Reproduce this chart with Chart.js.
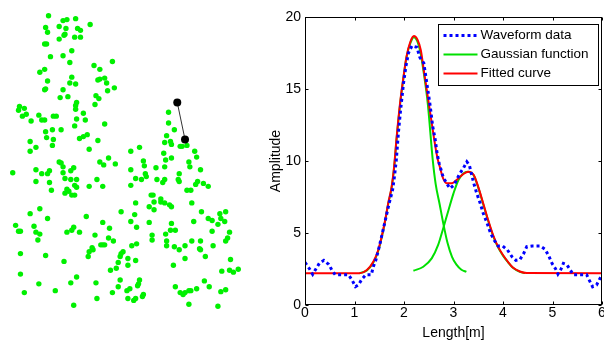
<!DOCTYPE html>
<html>
<head>
<meta charset="utf-8">
<script src="https://cdn.jsdelivr.net/npm/chart.js@4.4.0/dist/chart.umd.min.js"></script>
<style>
  html, body { margin: 0; padding: 0; background: #fff; }
  body { width: 604px; height: 340px; position: relative; overflow: hidden; }
  #mapWrap { position: absolute; left: 0; top: 0; width: 250px; height: 320px; }
  #waveWrap { position: absolute; left: 255px; top: 0; width: 349px; height: 340px; }
</style>
</head>
<body>
<div id="mapWrap"><canvas id="mapChart"></canvas></div>
<div id="waveWrap"><canvas id="waveChart"></canvas></div>
<script>
// --- Plan view: ground points and the selected footprint pair ---
const groundPts = [
  [46,12],[61,17],[65,16],[74,15],[43,24],[57,23],[64,25],[76,25],[79,27],[45,29],[63,31],[62,32],[73,34],[79,34],[57,36],
  [42,41],[44,41],[70,48],[48,54],[61,53],[68,60],[42,67],[37,70],[70,75],[45,79],[68,81],[74,82],[43,87],[42,88],[61,88],
  [58,96],[66,95],[75,101],[74,104],[74,108],[16,105],[15,109],[21,107],[19,115],[23,113],[36,114],[28,120],[39,119],[42,119],
  [51,115],[54,115],[75,118],[82,112],[84,119],[73,125],[43,131],[50,129],[59,129],[44,137],[51,139],[27,141],[33,147],[50,145],
  [27,151],[78,138],[82,136],
  [89,21],[93,63],[112,59],[99,67],[97,78],[99,77],[104,76],[106,81],[114,86],[107,89],[95,94],[98,97],[94,103],[104,123],
  [86,134],[97,140],[88,149],[131,151],[140,147],[170,111],[170,122],[168,135],[166,142],[165,153],
  [176,129],[172,141],[173,144],[182,146],[184,146],[189,145],[197,151],
  [57,162],[59,163],[61,167],[9,173],[33,170],[39,174],[45,174],[47,171],[61,173],[69,171],[72,168],[33,182],[47,183],[63,179],
  [69,180],[75,180],[73,186],[49,191],[65,190],[63,194],[67,192],[70,196],[73,196],[75,188],[37,210],[27,215],[45,220],[85,218],
  [12,227],[15,233],[17,233],[31,228],[33,234],[37,236],[35,242],[65,234],[70,232],[72,229],[78,234],[17,256],[43,258],[62,264],
  [17,277],[75,280],[36,287],[69,286],[21,296],[53,294],[72,309],
  [99,162],[108,158],[103,165],[115,164],[144,161],[145,166],[167,160],[166,167],[157,168],[131,170],[146,174],[147,177],[136,179],
  [142,180],[158,180],[166,180],[164,183],[96,180],[88,187],[102,187],[131,186],[152,196],[154,196],[162,200],[162,203],[166,204],
  [155,203],[150,208],[155,211],[136,204],[121,213],[135,216],[131,223],[102,224],[109,230],[150,224],[137,229],[94,237],[108,240],
  [113,243],[153,237],[153,242],[167,236],[168,243],[168,248],[100,247],[102,247],[104,247],[137,246],[132,248],[91,250],[92,252],
  [88,254],[87,259],[123,254],[121,256],[120,259],[128,261],[118,265],[136,263],[128,268],[116,271],[110,273],[120,283],[140,283],
  [139,287],[95,286],[118,290],[138,289],[130,292],[127,294],[112,296],[144,298],[143,300],[128,302],[136,302],[134,304],[96,302],
  [173,158],[191,162],[199,157],[192,167],[203,170],[181,174],[180,180],[181,182],[200,182],[198,185],[206,184],[211,187],[189,191],
  [193,191],[171,206],[173,208],[194,204],[204,213],[223,215],[229,213],[211,220],[215,222],[224,220],[228,223],[221,226],[196,223],
  [173,225],[172,232],[177,232],[215,233],[233,234],[231,240],[229,243],[194,243],[203,243],[176,249],[181,252],[187,248],[202,251],
  [203,252],[216,248],[208,259],[187,261],[234,262],[175,268],[225,274],[233,273],[237,275],[242,272],[207,284],[212,290],[177,290],
  [199,292],[182,296],[185,298],[187,296],[191,294],[193,294],[224,295],[229,293],[191,308],[221,310]
];
const footprintX = [179, 187];
const footprintY = [101, 139];

// --- Waveform panel ---
const waveX = [0, 0.09, 0.155, 0.22, 0.29, 0.38, 0.48, 0.545, 0.61, 0.7, 0.88, 0.95, 1.02, 1.08, 1.15, 1.23, 1.34, 1.38, 1.43,
  1.5, 1.57, 1.63, 1.7, 1.77, 1.81, 1.845, 1.885, 1.93, 1.99, 2.04, 2.09, 2.16, 2.26, 2.32, 2.4, 2.47, 2.53, 2.58, 2.63, 2.67,
  2.71, 2.79, 2.86, 2.93, 3.01, 3.06, 3.13, 3.2, 3.27, 3.32, 3.36, 3.41, 3.47, 3.54, 3.6, 3.68, 3.75, 3.82, 3.9, 3.99, 4.09,
  4.18, 4.26, 4.34, 4.42, 4.48, 4.59, 4.75, 4.85, 4.92, 4.99, 5.06, 5.11, 5.17, 5.22, 5.29, 5.35, 5.42, 5.55, 5.69, 5.74, 5.81,
  5.89, 5.96, 6.0];
const waveY = [2.96, 2.52, 2.13, 2.5, 2.9, 3.1, 2.82, 2.41, 2.1, 2.1, 2.1, 1.74, 1.27, 1.4, 1.8, 2.1, 2.1, 2.66, 3.1,
  4.05, 5.1, 6.0, 7.06, 8.0, 9.0, 10.1, 11.9, 13.5, 15.4, 16.6, 17.5, 18.0, 17.9, 17.2, 16.8, 15.2, 13.8, 12.4, 11.5, 10.5,
  9.84, 8.9, 8.45, 8.1, 8.33, 8.68, 9.14, 9.5, 9.95, 9.72, 9.14, 8.45, 7.75, 7.06, 6.37, 5.67, 4.98, 4.51, 4.1, 4.1, 3.82,
  3.36, 3.1, 3.15, 3.59, 4.05, 4.1, 4.1, 3.87, 3.44, 2.89, 2.52, 2.15, 2.48, 2.89, 2.8, 2.48, 2.1, 2.1, 2.1, 1.74, 1.27,
  1.39, 1.85, 2.1];

const gauss1X = [1.1, 1.25, 1.38, 1.48, 1.55, 1.62, 1.68, 1.75, 1.8, 1.85, 1.92, 1.99, 2.05, 2.13, 2.2, 2.27, 2.34, 2.4,
  2.48, 2.58, 2.64, 2.72, 2.78, 2.88, 2.97, 3.06, 3.16, 3.26];
const gauss1Y = [2.2, 2.4, 2.95, 3.75, 4.7, 5.85, 7.0, 8.15, 9.5, 11.5, 13.9, 15.8, 17.2, 18.2, 18.6, 18.3, 17.4, 16.1,
  14.0, 10.1, 8.4, 7.0, 5.9, 4.3, 3.35, 2.8, 2.45, 2.3];

const gauss2X = [2.19, 2.39, 2.56, 2.69, 2.79, 2.9, 3.0, 3.1, 3.2, 3.28, 3.41, 3.5, 3.6, 3.7, 3.8, 3.9, 4.0, 4.1, 4.2, 4.34, 4.45];
const gauss2Y = [2.38, 2.66, 3.24, 4.17, 5.3, 6.6, 7.75, 8.68, 9.14, 9.26, 9.0, 8.15, 7.0, 5.85, 4.8, 4.0, 3.43, 2.97, 2.58, 2.31, 2.22];

const fitX = [0, 1.1, 1.25, 1.38, 1.48, 1.55, 1.62, 1.68, 1.75, 1.8, 1.85, 1.92, 1.99, 2.05, 2.13, 2.2, 2.27, 2.34, 2.4, 2.47,
  2.54, 2.61, 2.67, 2.73, 2.79, 2.87, 2.96, 3.06, 3.2, 3.3, 3.41, 3.5, 3.6, 3.7, 3.8, 3.9, 4.0, 4.1, 4.2, 4.34, 4.48, 6.0];
const fitY = [2.2, 2.2, 2.43, 3.0, 3.82, 4.75, 5.9, 7.06, 8.2, 9.6, 11.6, 14.0, 15.85, 17.25, 18.3, 18.68, 18.45, 17.7, 16.3, 14.7,
  13.1, 11.5, 10.3, 9.5, 8.8, 8.45, 8.45, 8.68, 9.1, 9.26, 9.03, 8.2, 7.06, 5.9, 4.86, 4.05, 3.47, 3.0, 2.6, 2.33, 2.22, 2.2];

const xTicks = [0, 1, 2, 3, 4, 5, 6];
const yTicks = [0, 5, 10, 15, 20];
const legendLabels = ['Waveform data', 'Gaussian function', 'Fitted curve'];
const legendColors = ['#0000ff', '#00e000', '#ff0000'];

const FONT = 'Arial, "Liberation Sans", sans-serif';
const toPts = (xs, ys) => xs.map((x, i) => ({ x: x, y: ys[i] }));

// --- MATLAB-style box with inward ticks ---
const framePlugin = {
  id: 'frame',
  afterDraw(chart) {
    const { ctx, chartArea: a, scales: { x, y } } = chart;
    const L = Math.round(a.left) + 0.5, R = Math.round(a.right) - 0.5;
    const T = Math.round(a.top) + 0.5, B = Math.round(a.bottom) - 0.5;
    ctx.save();
    ctx.strokeStyle = '#000';
    ctx.lineWidth = 1;
    ctx.strokeRect(L, T, R - L, B - T);
    ctx.beginPath();
    xTicks.forEach(v => {
      const px = Math.round(x.getPixelForValue(v)) + 0.5;
      ctx.moveTo(px, B); ctx.lineTo(px, B - 3);
      ctx.moveTo(px, T); ctx.lineTo(px, T + 3);
    });
    yTicks.forEach(v => {
      const py = Math.round(y.getPixelForValue(v)) + 0.5;
      ctx.moveTo(L, py); ctx.lineTo(L + 3, py);
      ctx.moveTo(R, py); ctx.lineTo(R - 3, py);
    });
    ctx.stroke();

    // legend box
    const bw = 160, bh = 61;
    const bx = Math.round(a.right) - 4 - bw + 0.5, by = Math.round(a.top) + 7 + 0.5;
    ctx.fillStyle = '#fff';
    ctx.fillRect(bx, by, bw, bh);
    ctx.strokeRect(bx, by, bw, bh);
    ctx.font = '13.5px ' + FONT;
    ctx.textBaseline = 'middle';
    legendLabels.forEach((lab, i) => {
      const ry = by + 11 + i * 19;
      ctx.beginPath();
      ctx.strokeStyle = legendColors[i];
      if (i === 0) { ctx.lineWidth = 3; ctx.setLineDash([3, 3]); }
      else { ctx.lineWidth = 2; ctx.setLineDash([]); }
      ctx.moveTo(bx + 5, ry); ctx.lineTo(bx + 39, ry);
      ctx.stroke();
      ctx.setLineDash([]);
      ctx.fillStyle = '#000';
      ctx.fillText(lab, bx + 42, ry);
    });
    ctx.restore();
  }
};

// --- Plan view chart ---
new Chart(document.getElementById('mapChart'), {
  type: 'scatter',
  data: {
    datasets: [
      {
        data: toPts(footprintX, footprintY),
        showLine: true,
        borderColor: '#333',
        borderWidth: 1,
        pointRadius: 4,
        pointBackgroundColor: '#000',
        pointBorderWidth: 0,
        clip: false,
        order: 0
      },
      {
        data: groundPts.map(p => ({ x: p[0], y: p[1] })),
        pointRadius: 2.7,
        pointBackgroundColor: '#00f000',
        pointBorderWidth: 0,
        clip: false,
        order: 1
      }
    ]
  },
  options: {
    responsive: true, maintainAspectRatio: false, animation: false, devicePixelRatio: 1,
    layout: { padding: 0 },
    plugins: { legend: { display: false }, tooltip: { enabled: false } },
    scales: {
      x: { type: 'linear', display: false, min: 0, max: 250 },
      y: { type: 'linear', display: false, min: 0, max: 320, reverse: true }
    }
  }
});

// --- Waveform chart ---
new Chart(document.getElementById('waveChart'), {
  type: 'line',
  data: {
    datasets: [
      { label: legendLabels[0], data: toPts(waveX, waveY), borderColor: legendColors[0], borderWidth: 3,
        borderDash: [3, 3], pointRadius: 0, tension: 0, order: 0 },
      { label: legendLabels[2], data: toPts(fitX, fitY), borderColor: legendColors[2], borderWidth: 2,
        pointRadius: 0, cubicInterpolationMode: 'monotone', order: 1 },
      { label: legendLabels[1], data: toPts(gauss1X, gauss1Y), borderColor: legendColors[1], borderWidth: 2,
        pointRadius: 0, cubicInterpolationMode: 'monotone', order: 2 },
      { label: legendLabels[1], data: toPts(gauss2X, gauss2Y), borderColor: legendColors[1], borderWidth: 2,
        pointRadius: 0, cubicInterpolationMode: 'monotone', order: 2 }
    ]
  },
  options: {
    responsive: true, maintainAspectRatio: false, animation: false, devicePixelRatio: 1,
    layout: { padding: { top: 17, right: 2, left: 0, bottom: 0 } },
    plugins: { legend: { display: false }, tooltip: { enabled: false } },
    scales: {
      x: {
        type: 'linear', min: 0, max: 6,
        grid: { display: false, drawTicks: false },
        border: { display: false },
        afterBuildTicks: s => { s.ticks = xTicks.map(v => ({ value: v })); },
        afterFit: s => { s.height = 35; s.paddingLeft = 0; s.paddingRight = 0; },
        ticks: { color: '#000', padding: 0, maxRotation: 0, font: { family: FONT, size: 14 } },
        title: { display: true, text: 'Length[m]', color: '#000', padding: 0,
                 font: { family: FONT, size: 14, lineHeight: 1 } }
      },
      y: {
        type: 'linear', min: 0, max: 20,
        grid: { display: false, drawTicks: false },
        border: { display: false },
        afterBuildTicks: s => { s.ticks = yTicks.map(v => ({ value: v })); },
        afterFit: s => { s.width = 50; s.paddingTop = 0; s.paddingBottom = 0; },
        ticks: { color: '#000', padding: 4, font: { family: FONT, size: 14 } },
        title: { display: true, text: 'Amplitude', color: '#000', padding: { top: 13, bottom: 0 },
                 font: { family: FONT, size: 14 } }
      }
    }
  },
  plugins: [framePlugin]
});
</script>
</body>
</html>
